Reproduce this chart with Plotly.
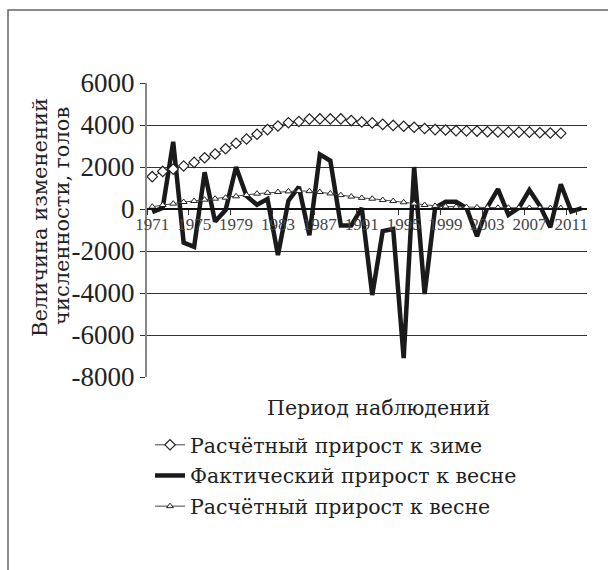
import plotly.graph_objects as go

years = [str(y) for y in range(1971, 2013)]

winter_calc = [1540, 1790, 1900, 2050, 2220, 2440, 2620, 2870, 3130, 3330,
               3560, 3780, 3950, 4110, 4170, 4280, 4290, 4290, 4290, 4210,
               4140, 4100, 4030, 3980, 3940, 3890, 3830, 3780, 3760, 3730,
               3720, 3710, 3680, 3670, 3670, 3660, 3660, 3630, 3620, 3610]

spring_actual = [-150, 50, 3200, -1600, -1800, 1750, -600, -50, 2000, 620,
                 200, 480, -2200, 400, 1050, -1250, 2600, 2300, -780, -780,
                 50, -4100, -1050, -950, -7100, 2000, -4050, 50, 350, 350,
                 50, -1300, 100, 950, -280, 50, 900, 150, -870, 1180,
                 -120, 40]

spring_calc = [110, 190, 254, 333, 381, 444, 492, 540, 603, 667,
               730, 770, 810, 840, 860, 850, 809, 740, 660, 590,
               530, 490, 430, 380, 320, 260, 190, 150, 120, 100,
               90, 80, 70, 60, 60, 55, 50, 50, 45, 45]

tick_years = years[::4]

times = "'Liberation Serif', 'Times New Roman', serif"
dvs = "'DejaVu Serif', 'Liberation Serif', serif"
txt = "#222222"

fig = go.Figure()

fig.add_trace(go.Scatter(
    x=years[:len(spring_actual)], y=spring_actual, mode="lines",
    name="Фактический прирост к весне", legendrank=2, legendgroup="b",
    line=dict(color="#1a1a1a", width=4.5),
))
fig.add_trace(go.Scatter(
    x=years[:len(winter_calc)], y=winter_calc, mode="lines+markers",
    name="Расчётный прирост к зиме", legendrank=1, legendgroup="a",
    line=dict(color="#444444", width=1),
    marker=dict(symbol="diamond", size=8, color="white",
                line=dict(color="#222222", width=1.2)),
))
fig.add_trace(go.Scatter(
    x=years[:len(spring_calc)], y=spring_calc, mode="lines+markers",
    name="Расчётный прирост к весне", legendrank=3, legendgroup="c",
    line=dict(color="#444444", width=1),
    marker=dict(symbol="triangle-up", size=6, color="white",
                line=dict(color="#222222", width=1)),
))

L, R, T, B = 147, 21, 83, 193
W, H = 608, 570
pw, ph = W - L - R, H - T - B


def px(x):
    return (x - L) / pw


def py(y):
    return (H - B - y) / ph


border = "M {a},{b} L {a},{c} L {d},{c}".format(
    a=px(8), b=py(900), c=py(10), d=px(900))

fig.update_layout(
    width=W, height=H,
    margin=dict(l=L, r=R, t=T, b=B),
    paper_bgcolor="white", plot_bgcolor="white",
    font=dict(family=dvs, color=txt),
    showlegend=True,
    legend=dict(x=px(150), y=py(425), xanchor="left", yanchor="top",
                font=dict(family=dvs, size=20.5, color=txt),
                tracegroupgap=1, traceorder="grouped",
                bgcolor="rgba(0,0,0,0)"),
    xaxis=dict(
        type="category", categoryorder="array", categoryarray=years,
        range=[-0.5, len(years) - 0.5],
        tickmode="array", tickvals=tick_years, ticktext=tick_years,
        tickson="boundaries", ticks="outside", ticklen=5, tickcolor="#333",
        tickangle=0,
        tickfont=dict(family=times, size=17, color="#444"),
        showgrid=False, showline=True, linecolor="#111", linewidth=1.5,
        anchor="free", position=8000 / 14000, zeroline=False,
    ),
    yaxis=dict(
        range=[-8000, 6000], tickvals=list(range(-8000, 6001, 2000)),
        ticktext=[str(v) for v in range(-8000, 6001, 2000)],
        showgrid=True, gridcolor="#333333", gridwidth=1,
        showline=True, linecolor="#888888", linewidth=2,
        ticks="outside", ticklen=5, tickcolor="#333",
        tickfont=dict(family=times, size=27, color=txt),
        zeroline=False,
    ),
    shapes=[dict(type="path", xref="paper", yref="paper", path=border,
                 line=dict(color="#666666", width=1.5), layer="above")],
    annotations=[
        dict(text="Величина изменений",
             xref="paper", yref="paper", x=px(40), y=py(218),
             xanchor="center", yanchor="middle",
             showarrow=False, textangle=-90,
             font=dict(family=dvs, size=21, color=txt)),
        dict(text="численности, голов",
             xref="paper", yref="paper", x=px(62), y=py(216),
             xanchor="center", yanchor="middle",
             showarrow=False, textangle=-90,
             font=dict(family=dvs, size=21, color=txt)),
        dict(text="Период наблюдений", xref="paper", yref="paper",
             x=px(378), y=py(408), xanchor="center", yanchor="middle",
             showarrow=False,
             font=dict(family=dvs, size=20.5, color=txt)),
    ],
)

fig.write_html(
    "out.html",
    config={"displayModeBar": False},
    post_script="document.body.style.margin='0';"
                "document.body.style.overflow='hidden';",
)
